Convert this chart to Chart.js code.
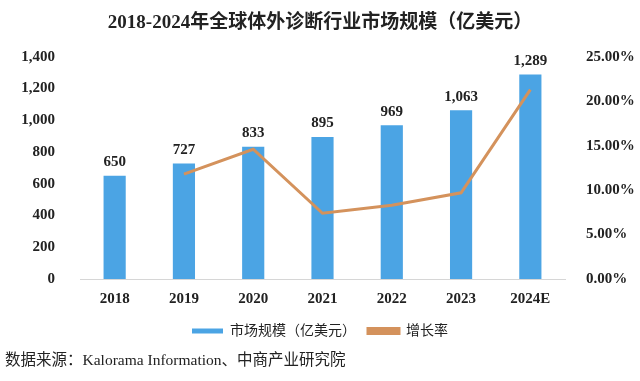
<!DOCTYPE html>
<html>
<head>
<meta charset="utf-8">
<script src="https://cdn.jsdelivr.net/npm/chart.js@4"></script>
<style>
  html, body { margin: 0; padding: 0; background: #fff; }
  #wrap { width: 640px; height: 381px; position: relative; }
</style>
</head>
<body>
<div id="wrap"><canvas id="ivdChart"></canvas></div>
<script>
const years = ["2018", "2019", "2020", "2021", "2022", "2023", "2024E"];
const marketSize = [650, 727, 833, 895, 969, 1063, 1289];
const growthRate = [null, 0.118, 0.146, 0.074, 0.083, 0.097, 0.213];

const serif = "'Liberation Serif', 'Times New Roman', 'Noto Sans CJK SC', serif";

const barLabels = {
  id: "barLabels",
  afterDatasetsDraw(chart) {
    const c = chart.ctx;
    const meta = chart.getDatasetMeta(0);
    c.save();
    c.font = "bold 15px " + serif;
    c.fillStyle = "#222";
    c.textAlign = "center";
    c.textBaseline = "bottom";
    meta.data.forEach((bar, i) => {
      c.fillText(marketSize[i].toLocaleString("en-US"), bar.x, bar.y - 6);
    });
    c.restore();
  },
  afterDraw(chart) {
    const c = chart.ctx;
    c.save();
    c.font = "15.5px " + serif;
    c.fillStyle = "#222";
    c.textBaseline = "middle";
    c.fillText("数据来源：Kalorama Information、中商产业研究院", 5, 361);
    c.restore();
  }
};

const ctx = document.getElementById("ivdChart").getContext("2d");

new Chart(ctx, {
  data: {
    labels: years,
    datasets: [{
      type: "bar",
      label: "市场规模（亿美元）",
      data: marketSize,
      backgroundColor: "#4ba4e4",
      barPercentage: 0.32,
      categoryPercentage: 1,
      yAxisID: "y",
      order: 1
    }, {
      type: "line",
      label: "增长率",
      data: growthRate,
      borderColor: "#d4925c",
      backgroundColor: "#d4925c",
      borderWidth: 3,
      pointRadius: 0,
      tension: 0,
      yAxisID: "y1",
      order: 0
    }]
  },
  plugins: [barLabels],
  options: {
    responsive: true,
    maintainAspectRatio: false,
    animation: false,
    layout: { padding: { left: 0, right: 0, top: 0, bottom: 33 } },
    plugins: {
      tooltip: { enabled: false },
      title: {
        display: true,
        text: "2018-2024年全球体外诊断行业市场规模（亿美元）",
        color: "#222",
        font: { family: serif, size: 19, weight: "bold" },
        padding: { top: 12, bottom: 22 }
      },
      legend: {
        position: "bottom",
        labels: {
          boxWidth: 31,
          boxHeight: 5,
          padding: 12,
          color: "#222",
          font: { family: serif, size: 14 },
          sort: (a, b) => a.datasetIndex - b.datasetIndex
        }
      }
    },
    scales: {
      x: {
        grid: { display: false },
        border: { display: true, color: "#d6d6d6" },
        ticks: { color: "#222", font: { family: serif, size: 15, weight: "bold" }, padding: 3 },
        afterFit: s => { s.height = 33; }
      },
      y: {
        position: "left",
        min: 0,
        max: 1400,
        grid: { display: false },
        border: { display: false },
        afterFit: s => { s.width = 80; },
        ticks: {
          stepSize: 200,
          padding: 17,
          color: "#222",
          font: { family: serif, size: 15, weight: "bold" },
          callback: v => v.toLocaleString("en-US")
        }
      },
      y1: {
        position: "right",
        min: 0,
        max: 0.25,
        grid: { display: false },
        border: { display: false },
        afterFit: s => { s.width = 75; },
        ticks: {
          stepSize: 0.05,
          padding: 13,
          color: "#222",
          font: { family: serif, size: 15, weight: "bold" },
          callback: v => (v * 100).toFixed(2) + "%"
        }
      }
    }
  }
});
</script>
</body>
</html>
